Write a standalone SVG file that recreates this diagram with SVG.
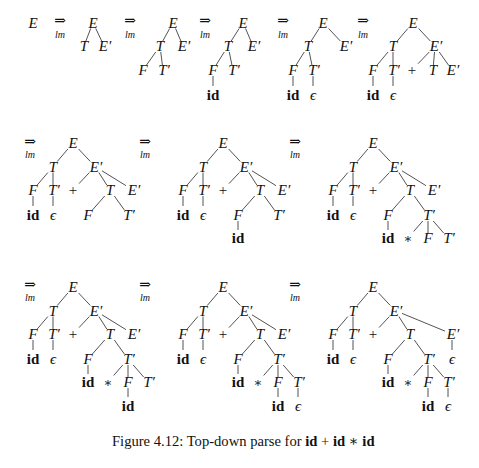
<svg xmlns="http://www.w3.org/2000/svg" width="479" height="468" viewBox="0 0 479 468">
<style>
text{font-family:"Liberation Serif","DejaVu Serif",serif;fill:#111;text-anchor:middle}
.v{font-style:italic;font-size:15px}
.b{font-weight:bold;font-size:15px}
.s{font-size:15px}
.st{font-size:13px}
.ar{font-family:"DejaVu Serif",serif;font-size:14px}
.lm{font-family:"Liberation Serif",serif;font-style:italic;font-size:10px}
.cap{font-size:14.6px;text-anchor:start}
#connectors line{stroke:#1a1a1a;stroke-width:0.75}
</style>
<rect width="479" height="468" fill="#fff"/>
<g id="connectors">
  <g id="c-A">
    <line x1="90.7" y1="28.5" x2="85.91" y2="41"/>
    <line x1="95.81" y1="28.5" x2="101.66" y2="41"/>
  </g>
  <g id="c-B">
    <line x1="169.68" y1="28.5" x2="162.77" y2="41"/>
    <line x1="175.55" y1="28.5" x2="180.87" y2="41"/>
    <line x1="155.75" y1="52" x2="146.54" y2="65"/>
    <line x1="160.75" y1="52" x2="162.38" y2="65"/>
  </g>
  <g id="c-C">
    <line x1="239.17" y1="28.5" x2="231.19" y2="41"/>
    <line x1="245.55" y1="28.5" x2="250.87" y2="41"/>
    <line x1="224.25" y1="52" x2="216.13" y2="65"/>
    <line x1="229.25" y1="52" x2="231.96" y2="65"/>
    <line x1="213" y1="76" x2="213" y2="86"/>
  </g>
  <g id="c-D">
    <line x1="319.17" y1="28.5" x2="311.19" y2="41"/>
    <line x1="328.62" y1="28.5" x2="340.32" y2="41"/>
    <line x1="304.25" y1="52" x2="296.13" y2="65"/>
    <line x1="309.25" y1="52" x2="311.96" y2="65"/>
    <line x1="293" y1="76" x2="293" y2="86"/>
    <line x1="313" y1="76" x2="313" y2="86"/>
  </g>
  <g id="c-E">
    <line x1="407.89" y1="28.5" x2="397.26" y2="41"/>
    <line x1="418.62" y1="28.5" x2="430.32" y2="41"/>
    <line x1="388" y1="52" x2="377.17" y2="65"/>
    <line x1="393" y1="52" x2="393" y2="65"/>
    <line x1="373" y1="76" x2="373" y2="86"/>
    <line x1="393" y1="76" x2="393" y2="86"/>
    <line x1="429.25" y1="52" x2="418" y2="63.74"/>
    <line x1="434.5" y1="52" x2="433.42" y2="65"/>
    <line x1="439.25" y1="52" x2="448.46" y2="65"/>
  </g>
  <g id="c-F">
    <line x1="67.89" y1="149" x2="57.26" y2="161.5"/>
    <line x1="78.62" y1="149" x2="90.32" y2="161.5"/>
    <line x1="47.89" y1="172.5" x2="37.26" y2="185"/>
    <line x1="53" y1="172.5" x2="53" y2="185"/>
    <line x1="33" y1="196" x2="33" y2="206"/>
    <line x1="53" y1="196" x2="53" y2="206"/>
    <line x1="89.38" y1="172.5" x2="79" y2="183.6"/>
    <line x1="98.83" y1="172.5" x2="106.81" y2="185"/>
    <line x1="102" y1="170.83" x2="126" y2="185.67"/>
    <line x1="104.72" y1="196" x2="92.4" y2="210"/>
    <line x1="114.32" y1="196" x2="124.4" y2="210"/>
  </g>
  <g id="c-G" transform="translate(150,0)">
    <line x1="67.89" y1="149" x2="57.26" y2="161.5"/>
    <line x1="78.62" y1="149" x2="90.32" y2="161.5"/>
    <line x1="47.89" y1="172.5" x2="37.26" y2="185"/>
    <line x1="53" y1="172.5" x2="53" y2="185"/>
    <line x1="33" y1="196" x2="33" y2="206"/>
    <line x1="53" y1="196" x2="53" y2="206"/>
    <line x1="89.38" y1="172.5" x2="79" y2="183.6"/>
    <line x1="98.83" y1="172.5" x2="106.81" y2="185"/>
    <line x1="102" y1="170.83" x2="126" y2="185.67"/>
    <line x1="104.72" y1="196" x2="92.4" y2="210"/>
    <line x1="114.32" y1="196" x2="124.4" y2="210"/>
    <line x1="88" y1="221" x2="88" y2="230"/>
  </g>
  <g id="c-H" transform="translate(300,0)">
    <line x1="67.89" y1="149" x2="57.26" y2="161.5"/>
    <line x1="78.62" y1="149" x2="90.32" y2="161.5"/>
    <line x1="47.89" y1="172.5" x2="37.26" y2="185"/>
    <line x1="53" y1="172.5" x2="53" y2="185"/>
    <line x1="33" y1="196" x2="33" y2="206"/>
    <line x1="53" y1="196" x2="53" y2="206"/>
    <line x1="89.38" y1="172.5" x2="79" y2="183.6"/>
    <line x1="98.83" y1="172.5" x2="106.81" y2="185"/>
    <line x1="102" y1="170.83" x2="126" y2="185.67"/>
    <line x1="104.72" y1="196" x2="92.4" y2="210"/>
    <line x1="114.32" y1="196" x2="124.4" y2="210"/>
    <line x1="88" y1="221" x2="88" y2="230"/>
    <line x1="122.78" y1="221" x2="113.65" y2="231.5"/>
    <line x1="128" y1="221" x2="128" y2="233"/>
    <line x1="133.22" y1="221" x2="143.65" y2="233"/>
  </g>
  <g id="c-I" transform="translate(0,144)">
    <line x1="67.89" y1="149" x2="57.26" y2="161.5"/>
    <line x1="78.62" y1="149" x2="90.32" y2="161.5"/>
    <line x1="47.89" y1="172.5" x2="37.26" y2="185"/>
    <line x1="53" y1="172.5" x2="53" y2="185"/>
    <line x1="33" y1="196" x2="33" y2="206"/>
    <line x1="53" y1="196" x2="53" y2="206"/>
    <line x1="89.38" y1="172.5" x2="79" y2="183.6"/>
    <line x1="98.83" y1="172.5" x2="106.81" y2="185"/>
    <line x1="102" y1="170.83" x2="126" y2="185.67"/>
    <line x1="104.72" y1="196" x2="92.4" y2="210"/>
    <line x1="114.32" y1="196" x2="124.4" y2="210"/>
    <line x1="88" y1="221" x2="88" y2="230"/>
    <line x1="122.78" y1="221" x2="113.65" y2="231.5"/>
    <line x1="128" y1="221" x2="128" y2="233"/>
    <line x1="133.22" y1="221" x2="143.65" y2="233"/>
    <line x1="128" y1="244" x2="128" y2="253"/>
  </g>
  <g id="c-J" transform="translate(150,144)">
    <line x1="67.89" y1="149" x2="57.26" y2="161.5"/>
    <line x1="78.62" y1="149" x2="90.32" y2="161.5"/>
    <line x1="47.89" y1="172.5" x2="37.26" y2="185"/>
    <line x1="53" y1="172.5" x2="53" y2="185"/>
    <line x1="33" y1="196" x2="33" y2="206"/>
    <line x1="53" y1="196" x2="53" y2="206"/>
    <line x1="89.38" y1="172.5" x2="79" y2="183.6"/>
    <line x1="98.83" y1="172.5" x2="106.81" y2="185"/>
    <line x1="102" y1="170.83" x2="126" y2="185.67"/>
    <line x1="104.72" y1="196" x2="92.4" y2="210"/>
    <line x1="114.32" y1="196" x2="124.4" y2="210"/>
    <line x1="88" y1="221" x2="88" y2="230"/>
    <line x1="122.78" y1="221" x2="113.65" y2="231.5"/>
    <line x1="128" y1="221" x2="128" y2="233"/>
    <line x1="133.22" y1="221" x2="143.65" y2="233"/>
    <line x1="128" y1="244" x2="128" y2="253"/>
    <line x1="148" y1="244" x2="148" y2="253"/>
  </g>
  <g id="c-K" transform="translate(300,144)">
    <line x1="67.89" y1="149" x2="57.26" y2="161.5"/>
    <line x1="78.62" y1="149" x2="90.32" y2="161.5"/>
    <line x1="47.89" y1="172.5" x2="37.26" y2="185"/>
    <line x1="53" y1="172.5" x2="53" y2="185"/>
    <line x1="33" y1="196" x2="33" y2="206"/>
    <line x1="53" y1="196" x2="53" y2="206"/>
    <line x1="89.38" y1="172.5" x2="79" y2="183.6"/>
    <line x1="98.83" y1="172.5" x2="106.81" y2="185"/>
    <line x1="102" y1="169.39" x2="145" y2="187.11"/>
    <line x1="152" y1="196" x2="152" y2="206"/>
    <line x1="104.72" y1="196" x2="92.4" y2="210"/>
    <line x1="114.32" y1="196" x2="124.4" y2="210"/>
    <line x1="88" y1="221" x2="88" y2="230"/>
    <line x1="122.78" y1="221" x2="113.65" y2="231.5"/>
    <line x1="128" y1="221" x2="128" y2="233"/>
    <line x1="133.22" y1="221" x2="143.65" y2="233"/>
    <line x1="128" y1="244" x2="128" y2="253"/>
    <line x1="148" y1="244" x2="148" y2="253"/>
  </g>
</g>
<g id="arrows">
  <g id="arr1"><text class="ar" x="60" y="25">⇒</text><text class="lm" x="60" y="37.6">lm</text></g>
  <g id="arr2"><text class="ar" x="130" y="25">⇒</text><text class="lm" x="130" y="37.6">lm</text></g>
  <g id="arr3"><text class="ar" x="205" y="25">⇒</text><text class="lm" x="205" y="37.6">lm</text></g>
  <g id="arr4"><text class="ar" x="283" y="25">⇒</text><text class="lm" x="283" y="37.6">lm</text></g>
  <g id="arr5"><text class="ar" x="363" y="25">⇒</text><text class="lm" x="363" y="37.6">lm</text></g>
  <g id="arr6"><text class="ar" x="30" y="145.5">⇒</text><text class="lm" x="30" y="158.1">lm</text></g>
  <g id="arr7"><text class="ar" x="145" y="145.5">⇒</text><text class="lm" x="145" y="158.1">lm</text></g>
  <g id="arr8"><text class="ar" x="295" y="145.5">⇒</text><text class="lm" x="295" y="158.1">lm</text></g>
  <g id="arr9"><text class="ar" x="30" y="288.5">⇒</text><text class="lm" x="30" y="301.1">lm</text></g>
  <g id="arr10"><text class="ar" x="145" y="288.5">⇒</text><text class="lm" x="145" y="301.1">lm</text></g>
  <g id="arr11"><text class="ar" x="295" y="288.5">⇒</text><text class="lm" x="295" y="301.1">lm</text></g>
</g>
<g id="start-E"><text class="v" x="33" y="27.5">E</text></g>
<g id="tree-A">
  <g id="A-E"><text class="v" x="93" y="27.5">E</text></g>
  <g id="A-T"><text class="v" x="84" y="51">T</text></g>
  <g id="A-E2"><text class="v" x="105" y="51">E′</text></g>
</g>
<g id="tree-B">
  <g id="B-E"><text class="v" x="173" y="27.5">E</text></g>
  <g id="B-T"><text class="v" x="160" y="51">T</text></g>
  <g id="B-E2"><text class="v" x="184" y="51">E′</text></g>
  <g id="B-F"><text class="v" x="143" y="75">F</text></g>
  <g id="B-T2"><text class="v" x="164" y="75">T′</text></g>
</g>
<g id="tree-C">
  <g id="C-E"><text class="v" x="243" y="27.5">E</text></g>
  <g id="C-T"><text class="v" x="228" y="51">T</text></g>
  <g id="C-E2"><text class="v" x="254" y="51">E′</text></g>
  <g id="C-F"><text class="v" x="213" y="75">F</text></g>
  <g id="C-T2"><text class="v" x="234" y="75">T′</text></g>
  <g id="C-id"><text class="b" x="213" y="100">id</text></g>
</g>
<g id="tree-D">
  <g id="D-E"><text class="v" x="323" y="27.5">E</text></g>
  <g id="D-T"><text class="v" x="308" y="51">T</text></g>
  <g id="D-E2"><text class="v" x="346" y="51">E′</text></g>
  <g id="D-F"><text class="v" x="293" y="75">F</text></g>
  <g id="D-T2"><text class="v" x="314" y="75">T′</text></g>
  <g id="D-id"><text class="b" x="293" y="100">id</text></g>
  <g id="D-eps"><text class="v" x="313" y="100">ϵ</text></g>
</g>
<g id="tree-E">
  <g id="E-E"><text class="v" x="413" y="27.5">E</text></g>
  <g id="E-T"><text class="v" x="393" y="51">T</text></g>
  <g id="E-E2"><text class="v" x="436" y="51">E′</text></g>
  <g id="E-F"><text class="v" x="373" y="75">F</text></g>
  <g id="E-T2"><text class="v" x="394" y="75">T′</text></g>
  <g id="E-plus"><text class="s" x="412" y="75">+</text></g>
  <g id="E-T3"><text class="v" x="433" y="75">T</text></g>
  <g id="E-E3"><text class="v" x="453" y="75">E′</text></g>
  <g id="E-id"><text class="b" x="373" y="100">id</text></g>
  <g id="E-eps"><text class="v" x="393" y="100">ϵ</text></g>
</g>
<g id="tree-F">
  <g id="F-E"><text class="v" x="73" y="148">E</text></g>
  <g id="F-T"><text class="v" x="53" y="171.5">T</text></g>
  <g id="F-E2"><text class="v" x="96" y="171.5">E′</text></g>
  <g id="F-F"><text class="v" x="33" y="195">F</text></g>
  <g id="F-T2"><text class="v" x="54" y="195">T′</text></g>
  <g id="F-plus"><text class="s" x="73" y="195">+</text></g>
  <g id="F-T3"><text class="v" x="110" y="195">T</text></g>
  <g id="F-E3"><text class="v" x="134" y="195">E′</text></g>
  <g id="F-id"><text class="b" x="33" y="220">id</text></g>
  <g id="F-eps"><text class="v" x="53" y="220">ϵ</text></g>
  <g id="F-F2"><text class="v" x="88" y="220">F</text></g>
  <g id="F-T4"><text class="v" x="129" y="220">T′</text></g>
</g>
<g id="tree-G" transform="translate(150,0)">
  <g id="G-E"><text class="v" x="73" y="148">E</text></g>
  <g id="G-T"><text class="v" x="53" y="171.5">T</text></g>
  <g id="G-E2"><text class="v" x="96" y="171.5">E′</text></g>
  <g id="G-F"><text class="v" x="33" y="195">F</text></g>
  <g id="G-T2"><text class="v" x="54" y="195">T′</text></g>
  <g id="G-plus"><text class="s" x="73" y="195">+</text></g>
  <g id="G-T3"><text class="v" x="110" y="195">T</text></g>
  <g id="G-E3"><text class="v" x="134" y="195">E′</text></g>
  <g id="G-id"><text class="b" x="33" y="220">id</text></g>
  <g id="G-eps"><text class="v" x="53" y="220">ϵ</text></g>
  <g id="G-F2"><text class="v" x="88" y="220">F</text></g>
  <g id="G-T4"><text class="v" x="129" y="220">T′</text></g>
  <g id="G-id2"><text class="b" x="88" y="243">id</text></g>
</g>
<g id="tree-H" transform="translate(300,0)">
  <g id="H-E"><text class="v" x="73" y="148">E</text></g>
  <g id="H-T"><text class="v" x="53" y="171.5">T</text></g>
  <g id="H-E2"><text class="v" x="96" y="171.5">E′</text></g>
  <g id="H-F"><text class="v" x="33" y="195">F</text></g>
  <g id="H-T2"><text class="v" x="54" y="195">T′</text></g>
  <g id="H-plus"><text class="s" x="73" y="195">+</text></g>
  <g id="H-T3"><text class="v" x="110" y="195">T</text></g>
  <g id="H-E3"><text class="v" x="134" y="195">E′</text></g>
  <g id="H-id"><text class="b" x="33" y="220">id</text></g>
  <g id="H-eps"><text class="v" x="53" y="220">ϵ</text></g>
  <g id="H-F2"><text class="v" x="88" y="220">F</text></g>
  <g id="H-T4"><text class="v" x="129" y="220">T′</text></g>
  <g id="H-id2"><text class="b" x="88" y="243">id</text></g>
  <g id="H-star"><text class="st" x="108" y="243">∗</text></g>
  <g id="H-F3"><text class="v" x="128" y="243">F</text></g>
  <g id="H-T5"><text class="v" x="149" y="243">T′</text></g>
</g>
<g id="tree-I" transform="translate(0,144)">
  <g id="I-E"><text class="v" x="73" y="148">E</text></g>
  <g id="I-T"><text class="v" x="53" y="171.5">T</text></g>
  <g id="I-E2"><text class="v" x="96" y="171.5">E′</text></g>
  <g id="I-F"><text class="v" x="33" y="195">F</text></g>
  <g id="I-T2"><text class="v" x="54" y="195">T′</text></g>
  <g id="I-plus"><text class="s" x="73" y="195">+</text></g>
  <g id="I-T3"><text class="v" x="110" y="195">T</text></g>
  <g id="I-E3"><text class="v" x="134" y="195">E′</text></g>
  <g id="I-id"><text class="b" x="33" y="220">id</text></g>
  <g id="I-eps"><text class="v" x="53" y="220">ϵ</text></g>
  <g id="I-F2"><text class="v" x="88" y="220">F</text></g>
  <g id="I-T4"><text class="v" x="129" y="220">T′</text></g>
  <g id="I-id2"><text class="b" x="88" y="243">id</text></g>
  <g id="I-star"><text class="st" x="108" y="243">∗</text></g>
  <g id="I-F3"><text class="v" x="128" y="243">F</text></g>
  <g id="I-T5"><text class="v" x="149" y="243">T′</text></g>
  <g id="I-id3"><text class="b" x="128" y="267">id</text></g>
</g>
<g id="tree-J" transform="translate(150,144)">
  <g id="J-E"><text class="v" x="73" y="148">E</text></g>
  <g id="J-T"><text class="v" x="53" y="171.5">T</text></g>
  <g id="J-E2"><text class="v" x="96" y="171.5">E′</text></g>
  <g id="J-F"><text class="v" x="33" y="195">F</text></g>
  <g id="J-T2"><text class="v" x="54" y="195">T′</text></g>
  <g id="J-plus"><text class="s" x="73" y="195">+</text></g>
  <g id="J-T3"><text class="v" x="110" y="195">T</text></g>
  <g id="J-E3"><text class="v" x="134" y="195">E′</text></g>
  <g id="J-id"><text class="b" x="33" y="220">id</text></g>
  <g id="J-eps"><text class="v" x="53" y="220">ϵ</text></g>
  <g id="J-F2"><text class="v" x="88" y="220">F</text></g>
  <g id="J-T4"><text class="v" x="129" y="220">T′</text></g>
  <g id="J-id2"><text class="b" x="88" y="243">id</text></g>
  <g id="J-star"><text class="st" x="108" y="243">∗</text></g>
  <g id="J-F3"><text class="v" x="128" y="243">F</text></g>
  <g id="J-T5"><text class="v" x="149" y="243">T′</text></g>
  <g id="J-id3"><text class="b" x="128" y="267">id</text></g>
  <g id="J-eps2"><text class="v" x="148" y="267">ϵ</text></g>
</g>
<g id="tree-K" transform="translate(300,144)">
  <g id="K-E"><text class="v" x="73" y="148">E</text></g>
  <g id="K-T"><text class="v" x="53" y="171.5">T</text></g>
  <g id="K-E2"><text class="v" x="96" y="171.5">E′</text></g>
  <g id="K-F"><text class="v" x="33" y="195">F</text></g>
  <g id="K-T2"><text class="v" x="54" y="195">T′</text></g>
  <g id="K-plus"><text class="s" x="73" y="195">+</text></g>
  <g id="K-T3"><text class="v" x="110" y="195">T</text></g>
  <g id="K-E3"><text class="v" x="153" y="195">E′</text></g>
  <g id="K-id"><text class="b" x="33" y="220">id</text></g>
  <g id="K-eps"><text class="v" x="53" y="220">ϵ</text></g>
  <g id="K-F2"><text class="v" x="88" y="220">F</text></g>
  <g id="K-T4"><text class="v" x="129" y="220">T′</text></g>
  <g id="K-eps3"><text class="v" x="152" y="220">ϵ</text></g>
  <g id="K-id2"><text class="b" x="88" y="243">id</text></g>
  <g id="K-star"><text class="st" x="108" y="243">∗</text></g>
  <g id="K-F3"><text class="v" x="128" y="243">F</text></g>
  <g id="K-T5"><text class="v" x="149" y="243">T′</text></g>
  <g id="K-id3"><text class="b" x="128" y="267">id</text></g>
  <g id="K-eps2"><text class="v" x="148" y="267">ϵ</text></g>
</g>
<g id="caption"><text class="cap" x="112" y="446">Figure 4.12: Top-down parse for <tspan font-weight="bold">id</tspan> + <tspan font-weight="bold">id</tspan> ∗ <tspan font-weight="bold">id</tspan></text></g>
</svg>
